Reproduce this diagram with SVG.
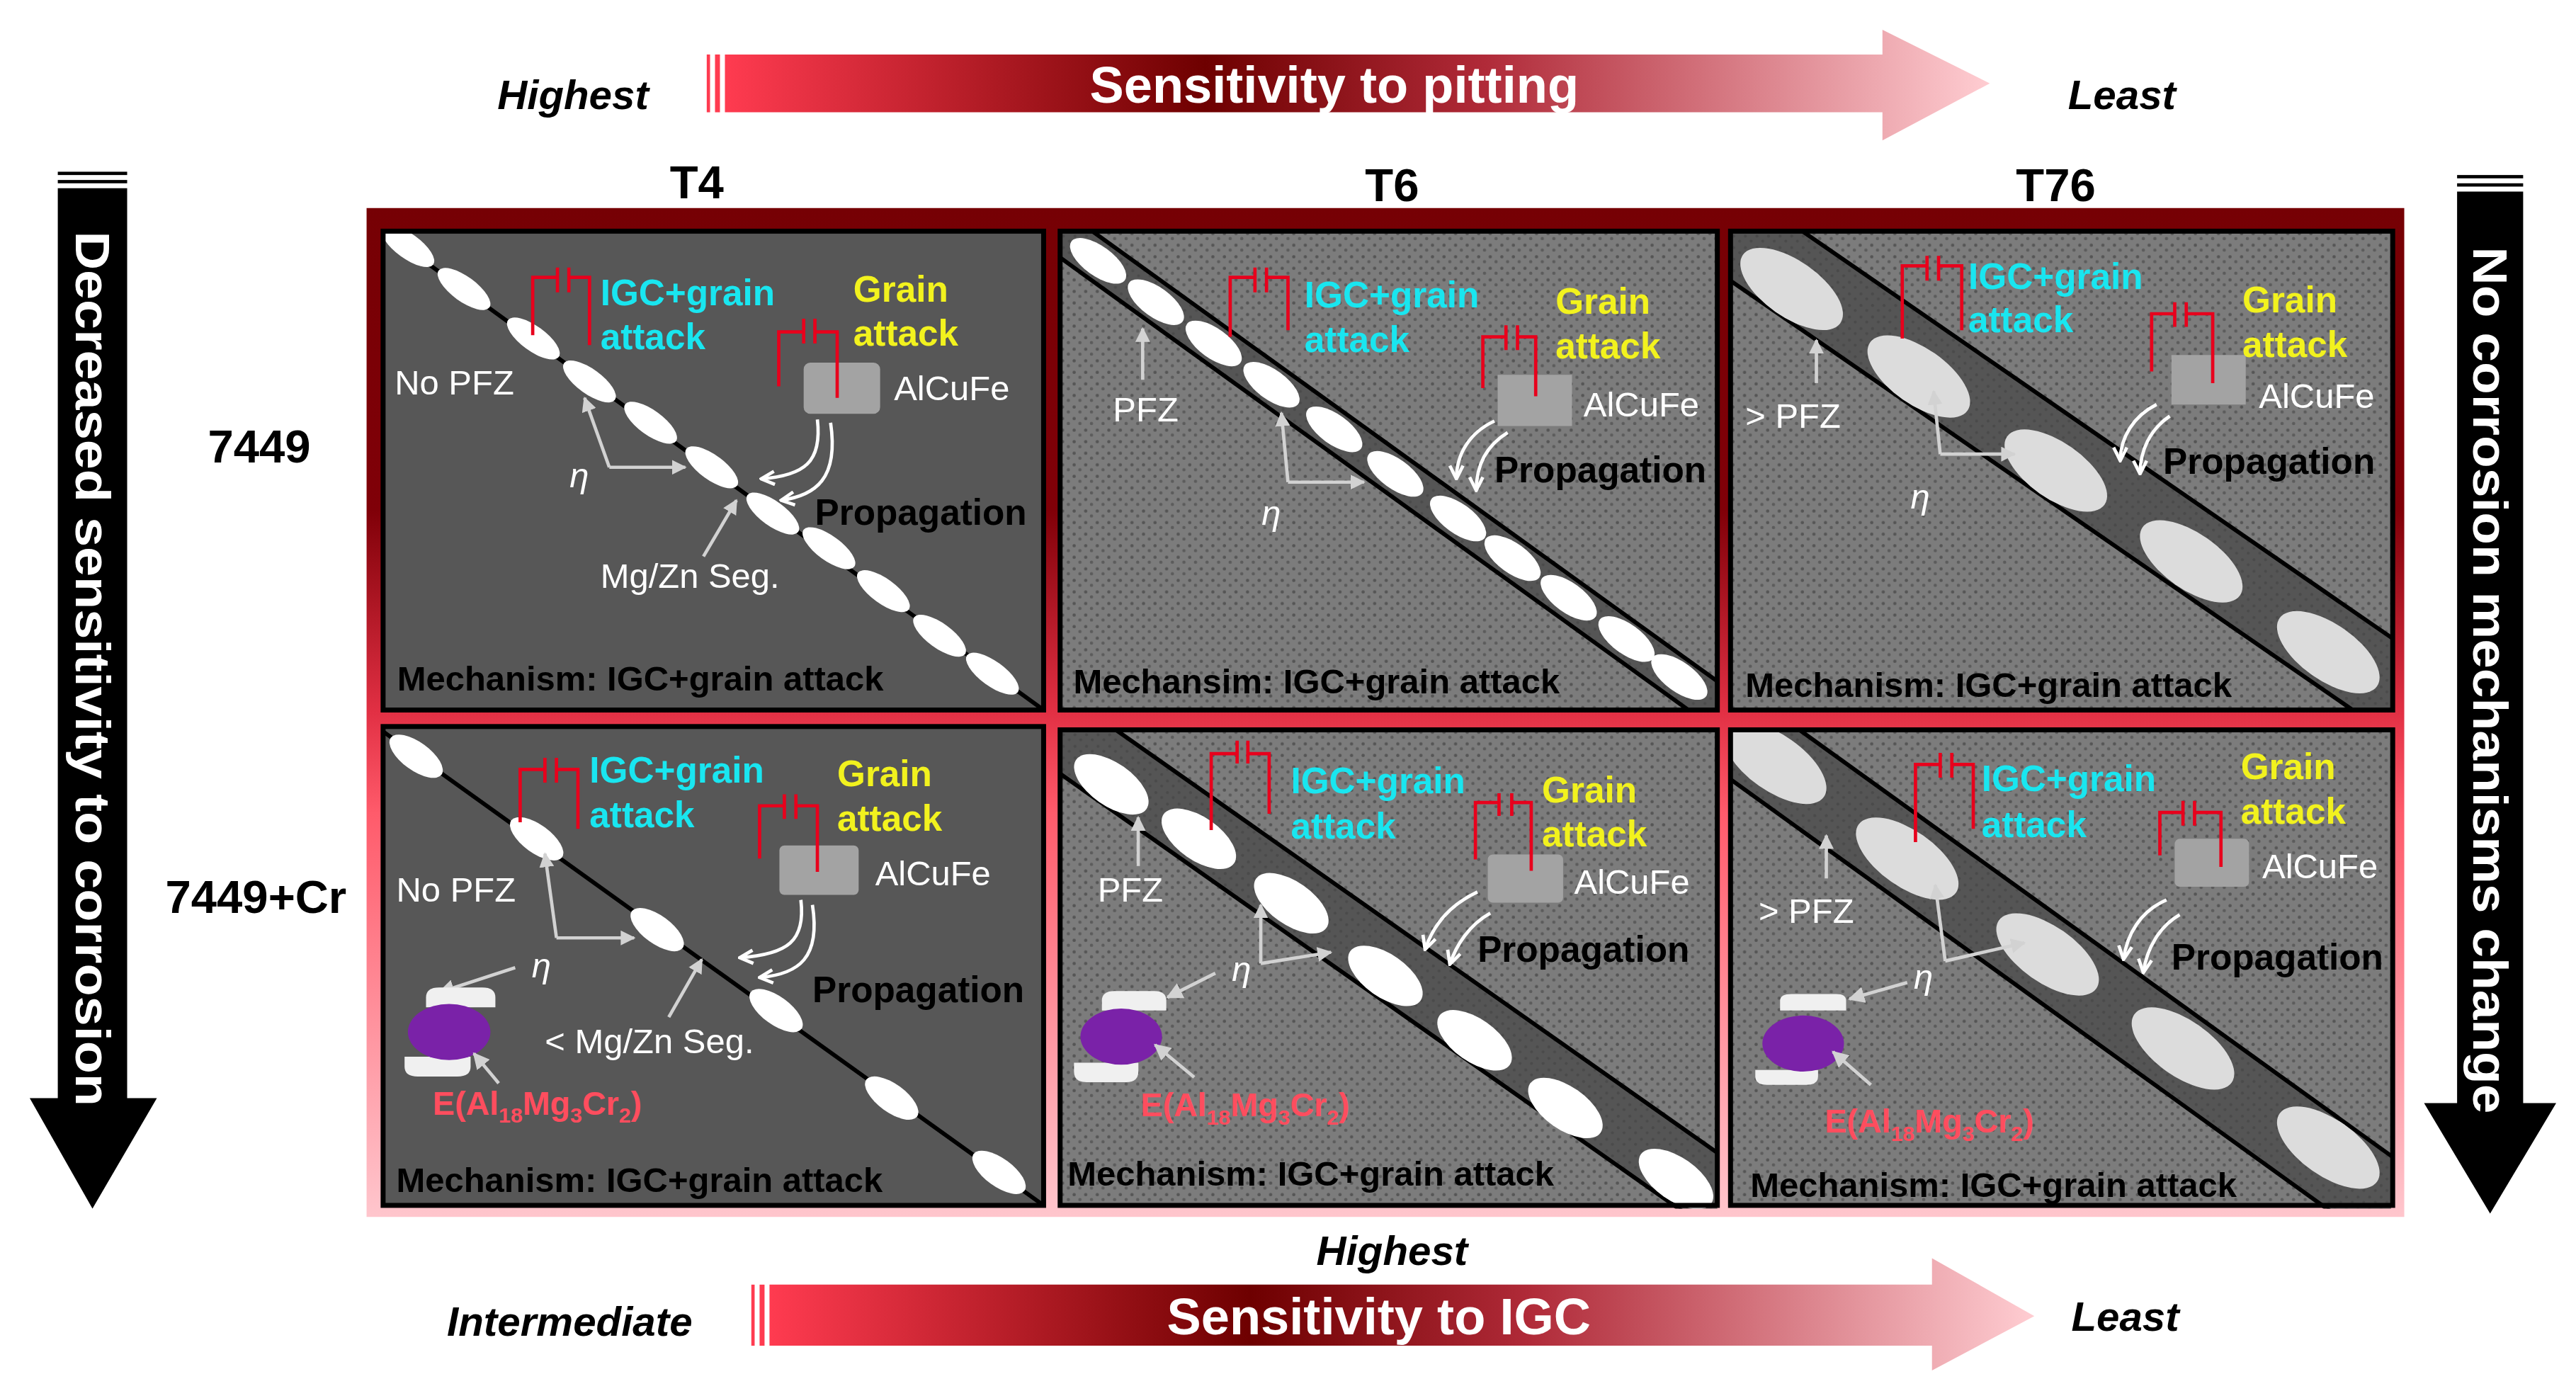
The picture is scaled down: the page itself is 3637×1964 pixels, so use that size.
<svg xmlns="http://www.w3.org/2000/svg" width="3637" height="1964" viewBox="0 0 3637 1964">
<style>
text{font-family:"Liberation Sans",Arial,sans-serif}
.b{font-weight:bold}
.cy{fill:#19e6f0;font-weight:bold;font-size:22px}
.ye{fill:#f2f21e;font-weight:bold;font-size:22px}
.wt{fill:#fff;font-size:21px}
.bk{fill:#000;font-weight:bold;font-size:22px}
.mech{fill:#000;font-weight:bold;font-size:21px}
.er{fill:#ff4d5e;font-weight:bold;font-size:20px}
.br{fill:none;stroke:#e8001c;stroke-width:2}
.ga{fill:none;stroke:#d2d2d2;stroke-width:2}
.pa{fill:none;stroke:#fff;stroke-width:2}
.gl{stroke:#000;stroke-width:2.5}
.ew{fill:#fff}
.eg{fill:#dcdcdc}
.box{fill:#a3a3a3}
.frame{fill:none;stroke:#000;stroke-width:3}
</style>
<defs>
<linearGradient id="gf" x1="0" y1="0" x2="0" y2="1">
<stop offset="0" stop-color="#760004"/><stop offset="0.3" stop-color="#800008"/><stop offset="0.5" stop-color="#e23044"/><stop offset="0.6" stop-color="#ff5b6b"/><stop offset="1" stop-color="#ffc6cd"/>
</linearGradient>
<linearGradient id="ga" x1="0" y1="0" x2="1" y2="0">
<stop offset="0" stop-color="#ff3b50"/><stop offset="0.38" stop-color="#6e0000"/><stop offset="0.6" stop-color="#b02a38"/><stop offset="1" stop-color="#ffcdd2"/>
</linearGradient>
<pattern id="tex" width="7" height="7" patternUnits="userSpaceOnUse">
<rect width="7" height="7" fill="#7c7c7c"/><circle cx="1.5" cy="1.5" r="1" fill="#555"/><circle cx="5" cy="4.5" r="1" fill="#5c5c5c"/>
</pattern>
<pattern id="tex2" width="7" height="7" patternUnits="userSpaceOnUse">
<rect width="7" height="7" fill="#555"/><circle cx="2" cy="3" r="0.9" fill="#4a4a4a"/><circle cx="5.5" cy="6" r="0.9" fill="#4a4a4a"/>
</pattern>
<marker id="mg" viewBox="0 0 10 10" refX="9" refY="5" markerWidth="9" markerHeight="9" orient="auto" markerUnits="userSpaceOnUse"><path d="M0,0L10,5L0,10z" fill="#d2d2d2"/></marker>
<marker id="mgs" viewBox="0 0 10 10" refX="9" refY="5" markerWidth="10" markerHeight="10" orient="auto" markerUnits="userSpaceOnUse"><path d="M0,0L10,5L0,10z" fill="#d2d2d2"/></marker>
<marker id="mw" viewBox="0 0 10 10" refX="9" refY="5" markerWidth="10" markerHeight="10" orient="auto" markerUnits="userSpaceOnUse"><path d="M1,1L9,5L1,9" fill="none" stroke="#fff" stroke-width="2"/></marker>
<clipPath id="c1"><rect width="400" height="290"/></clipPath>
</defs>
<rect width="3637" height="1964" fill="#fff"/>
<g transform="scale(2.3314)">
<g id="frame"><rect x="222" y="126" width="1234" height="611" fill="url(#gf)"/></g>

<g id="top-arrow">
<rect x="428" y="33" width="2" height="35" fill="#ff3b50"/><rect x="433" y="33" width="3" height="35" fill="#ff3b50"/>
<path d="M439,33H1140V18L1205,50.5L1140,85V68H439Z" fill="url(#ga)"/>
<text x="808" y="62" class="b" font-size="31" fill="#fff" text-anchor="middle">Sensitivity to pitting</text>
<text x="347" y="66" class="b" font-size="25" font-style="italic" text-anchor="middle">Highest</text>
<text x="1285" y="66" class="b" font-size="25" font-style="italic" text-anchor="middle">Least</text>
</g>
<g id="bottom-arrow">
<rect x="455" y="778" width="2" height="37" fill="#ff3b50"/><rect x="460" y="778" width="3" height="37" fill="#ff3b50"/>
<path d="M466,778H1170V762L1232,797L1170,830V815H466Z" fill="url(#ga)"/>
<text x="835" y="808" class="b" font-size="31" fill="#fff" text-anchor="middle">Sensitivity to IGC</text>
<text x="345" y="809" class="b" font-size="25" font-style="italic" text-anchor="middle">Intermediate</text>
<text x="843" y="766" class="b" font-size="25" font-style="italic" text-anchor="middle">Highest</text>
<text x="1287" y="806" class="b" font-size="25" font-style="italic" text-anchor="middle">Least</text>
</g>
<g id="left-arrow">
<rect x="35" y="104" width="42" height="2" /><rect x="35" y="109" width="42" height="2"/>
<path d="M35,114H77V665H95L56,732L18,665H35Z"/>
<text transform="translate(46,405) rotate(90)" class="b" font-size="29" fill="#fff" text-anchor="middle" textLength="530" lengthAdjust="spacingAndGlyphs">Decreased sensitivity to corrosion</text>
</g>
<g id="right-arrow">
<rect x="1488" y="106" width="40" height="2"/><rect x="1488" y="111" width="40" height="2"/>
<path d="M1488,116H1528V668H1548L1508,735L1468,668H1488Z"/>
<text transform="translate(1498,412) rotate(90)" class="b" font-size="29" fill="#fff" text-anchor="middle" textLength="525" lengthAdjust="spacingAndGlyphs">No corrosion mechanisms change</text>
</g>
<g id="labels" class="b" font-size="28">
<text x="422" y="120" text-anchor="middle">T4</text>
<text x="843" y="122" text-anchor="middle">T6</text>
<text x="1245" y="122" text-anchor="middle">T76</text>
<text x="157" y="280" text-anchor="middle">7449</text>
<text x="155" y="553" text-anchor="middle">7449+Cr</text>
</g>

<g id="p-t4-7449" transform="translate(232,140)">
<rect width="400" height="290" fill="#575757"/>
<g clip-path="url(#c1)">
<line x1="0" y1="0" x2="400" y2="290" class="gl" stroke-width="3"/>
<g class="ew">
<ellipse rx="19" ry="7.5" transform="translate(15,9) rotate(36)"/>
<ellipse rx="19" ry="7.5" transform="translate(49,35) rotate(36)"/>
<ellipse rx="19" ry="7.5" transform="translate(91,65) rotate(36)"/>
<ellipse rx="19" ry="7.5" transform="translate(125,91) rotate(36)"/>
<ellipse rx="19" ry="7.5" transform="translate(162,116) rotate(36)"/>
<ellipse rx="19" ry="7.5" transform="translate(199,143) rotate(36)"/>
<ellipse rx="19" ry="7.5" transform="translate(236,171) rotate(36)"/>
<ellipse rx="19" ry="7.5" transform="translate(270,192) rotate(36)"/>
<ellipse rx="19" ry="7.5" transform="translate(303,218) rotate(36)"/>
<ellipse rx="19" ry="7.5" transform="translate(337,245) rotate(36)"/>
<ellipse rx="19" ry="7.5" transform="translate(369,268) rotate(36)"/>
</g>
</g>
<path class="br" d="M90.6,63V28H105.6M105.6,22V37M112.5,22V37M112.5,28H125V69"/>
<rect x="254.7" y="79.6" width="46.3" height="31" rx="4" class="box"/>
<path class="br" d="M239.6,94V61H254.7M254.7,53V68M261.5,53V68M261.5,61H275V101"/>
<text x="131.6" y="44.8" class="cy">IGC+grain</text><text x="131.6" y="71.5" class="cy">attack</text>
<text x="284.8" y="42.7" class="ye">Grain</text><text x="284.8" y="69.4" class="ye">attack</text>
<text x="309.4" y="102.2" class="wt">AlCuFe</text>
<text x="7" y="99" class="wt">No PFZ</text>
<text x="261.5" y="178" class="bk">Propagation</text>
<text x="131.6" y="216" class="wt">Mg/Zn Seg.</text>
<text x="113" y="155" class="wt" font-style="italic">η</text>
<path class="ga" d="M137,143H183" marker-end="url(#mg)"/><path class="ga" d="M137,143L122,101" marker-end="url(#mg)"/>
<path class="ga" d="M194,197L214,163" marker-end="url(#mg)"/>
<path class="pa" d="M263,114C266,140 255,148 229,150" marker-end="url(#mw)"/>
<path class="pa" d="M271,116C276,150 262,160 241,163" marker-end="url(#mw)"/>
<text x="8.5" y="278" class="mech">Mechanism: IGC+grain attack</text>
<rect width="400" height="290" class="frame"/>
</g>

<g id="p-t6-7449" transform="translate(642,140)">
<rect width="398" height="290" fill="url(#tex)"/>
<g clip-path="url(#c1)">
<path d="M0,-14L398,272.6L398,302.6L0,16Z" fill="url(#tex2)"/>
<line x1="0" y1="-14" x2="398" y2="272.6" class="gl"/>
<line x1="0" y1="16" x2="398" y2="302.6" class="gl"/>
<g class="ew">
<ellipse rx="20" ry="9" transform="translate(23,18) rotate(36)"/>
<ellipse rx="20" ry="9" transform="translate(58,43) rotate(36)"/>
<ellipse rx="20" ry="9" transform="translate(93,68) rotate(36)"/>
<ellipse rx="20" ry="9" transform="translate(128,93) rotate(36)"/>
<ellipse rx="20" ry="9" transform="translate(166,120) rotate(36)"/>
<ellipse rx="20" ry="9" transform="translate(203,147) rotate(36)"/>
<ellipse rx="20" ry="9" transform="translate(241,174) rotate(36)"/>
<ellipse rx="20" ry="9" transform="translate(274,198) rotate(36)"/>
<ellipse rx="20" ry="9" transform="translate(308,222) rotate(36)"/>
<ellipse rx="20" ry="9" transform="translate(343,247) rotate(36)"/>
<ellipse rx="20" ry="9" transform="translate(375,270) rotate(36)"/>
</g>
</g>
<path class="br" d="M103,64V28H118M118,22V37M125,22V37M125,28H138V60"/>
<rect x="265" y="87" width="45" height="31" class="box"/>
<path class="br" d="M256,95V64H270M270,57V72M277,57V72M277,64H288V100"/>
<text x="148" y="46" class="cy">IGC+grain</text><text x="148" y="73" class="cy">attack</text>
<text x="300" y="50" class="ye">Grain</text><text x="300" y="77" class="ye">attack</text>
<text x="317" y="112" class="wt">AlCuFe</text>
<text x="32" y="115" class="wt">PFZ</text>
<path class="ga" d="M50,90V59" marker-end="url(#mg)"/>
<text x="263" y="152" class="bk">Propagation</text>
<text x="122" y="178" class="wt" font-style="italic">η</text>
<path class="ga" d="M138,152H184" marker-end="url(#mg)"/><path class="ga" d="M138,152L134,110" marker-end="url(#mg)"/>
<path class="pa" d="M263,115C248,122 240,135 240,150" marker-end="url(#mw)"/>
<path class="pa" d="M271,122C258,130 252,142 252,157" marker-end="url(#mw)"/>
<text x="8" y="280" class="mech">Mechansim: IGC+grain attack</text>
<rect width="398" height="290" class="frame"/>
</g>

<g id="p-t76-7449" transform="translate(1048,140)">
<rect width="401" height="290" fill="url(#tex)"/>
<g clip-path="url(#c1)">
<path d="M0,-30L401,246.7L401,306.7L0,30Z" fill="url(#tex2)"/>
<line x1="0" y1="-30" x2="401" y2="246.7" class="gl"/>
<line x1="0" y1="30" x2="401" y2="306.7" class="gl"/>
<g class="eg">
<ellipse rx="36" ry="17" transform="translate(37,35) rotate(35)"/>
<ellipse rx="36" ry="17" transform="translate(114,88) rotate(35)"/>
<ellipse rx="36" ry="17" transform="translate(197,145) rotate(35)"/>
<ellipse rx="36" ry="17" transform="translate(279,200) rotate(35)"/>
<ellipse rx="36" ry="17" transform="translate(362,255) rotate(35)"/>
</g>
</g>
<path class="br" d="M104,65V21H119M119,15V30M126,15V30M126,21H140V60"/>
<rect x="267" y="75" width="45" height="30" class="box"/>
<path class="br" d="M255,85V50H269M269,43V58M276,43V58M276,50H292V92"/>
<text x="144" y="35" class="cy">IGC+grain</text><text x="144" y="61" class="cy">attack</text>
<text x="310" y="49" class="ye">Grain</text><text x="310" y="76" class="ye">attack</text>
<text x="320" y="107" class="wt">AlCuFe</text>
<text x="9" y="119" class="wt">&gt; PFZ</text>
<path class="ga" d="M52,92V66" marker-end="url(#mg)"/>
<text x="262" y="147" class="bk">Propagation</text>
<text x="109" y="168" class="wt" font-style="italic">η</text>
<path class="ga" d="M127,135H172" marker-end="url(#mg)"/><path class="ga" d="M127,135L123,97" marker-end="url(#mg)"/>
<path class="pa" d="M258,105C244,112 236,125 236,139" marker-end="url(#mw)"/>
<path class="pa" d="M266,112C254,120 248,133 248,147" marker-end="url(#mw)"/>
<text x="9" y="282" class="mech">Mechanism: IGC+grain attack</text>
<rect width="401" height="290" class="frame"/>
</g>

<g id="p-t4-7449cr" transform="translate(232,440)">
<rect width="400" height="290" fill="#575757"/>
<g clip-path="url(#c1)">
<line x1="0" y1="3" x2="400" y2="290" class="gl" stroke-width="3"/>
<g class="ew">
<ellipse rx="19" ry="8.5" transform="translate(20,18) rotate(36)"/>
<ellipse rx="19" ry="8.5" transform="translate(93,68) rotate(36)"/>
<ellipse rx="19" ry="8.5" transform="translate(166,123) rotate(36)"/>
<ellipse rx="19" ry="8.5" transform="translate(238,172) rotate(36)"/>
<ellipse rx="19" ry="8.5" transform="translate(308,225) rotate(36)"/>
<ellipse rx="19" ry="8.5" transform="translate(373,270) rotate(36)"/>
</g>
</g>
<path class="br" d="M83,58V26H98M98,19V34M105,19V34M105,26H118V62"/>
<rect x="240" y="72" width="48" height="30" rx="3" class="box"/>
<path class="br" d="M228,80V48H243M243,41V56M250,41V56M250,48H263V88"/>
<text x="125" y="34" class="cy">IGC+grain</text><text x="125" y="61" class="cy">attack</text>
<text x="275" y="36" class="ye">Grain</text><text x="275" y="63" class="ye">attack</text>
<text x="298" y="96" class="wt">AlCuFe</text>
<text x="8" y="106" class="wt">No PFZ</text>
<text x="260" y="167" class="bk">Propagation</text>
<text x="98" y="198" class="wt">&lt; Mg/Zn Seg.</text>
<text x="90" y="152" class="wt" font-style="italic">η</text>
<path class="ga" d="M105,128H152" marker-end="url(#mg)"/><path class="ga" d="M105,128L98,77" marker-end="url(#mg)"/>
<path class="ga" d="M80,146L34,161" marker-end="url(#mgs)"/>
<path class="ga" d="M173,176L193,141" marker-end="url(#mg)"/>
<path d="M26,170V164Q26,158 34,158H60Q68,158 68,164V170Z" fill="#f0f0f0"/>
<path d="M13,200V206Q13,212 21,212H45Q53,212 53,206V200Z" fill="#f0f0f0"/>
<ellipse cx="40" cy="185" rx="25" ry="17" fill="#7a22a8"/>
<path class="ga" d="M70,216L55,198" marker-end="url(#mgs)"/>
<text x="30" y="235" class="er">E(Al<tspan font-size="13" dy="5">18</tspan><tspan dy="-5">Mg</tspan><tspan font-size="13" dy="5">3</tspan><tspan dy="-5">Cr</tspan><tspan font-size="13" dy="5">2</tspan><tspan dy="-5">)</tspan></text>
<path class="pa" d="M253,105C256,130 245,138 216,140" marker-end="url(#mw)"/>
<path class="pa" d="M260,108C265,140 252,150 228,152" marker-end="url(#mw)"/>
<text x="8" y="282" class="mech">Mechanism: IGC+grain attack</text>
<rect width="400" height="290" class="frame"/>
</g>

<g id="p-t6-7449cr" transform="translate(642,442)">
<rect width="398" height="288" fill="url(#tex)"/>
<g clip-path="url(#c1)">
<path d="M0,-23.7L398,256.1L398,306.4L0,26.6Z" fill="url(#tex2)"/>
<line x1="0" y1="-23.7" x2="398" y2="256.1" class="gl"/>
<line x1="0" y1="26.6" x2="398" y2="306.4" class="gl"/>
<g class="ew">
<ellipse rx="26" ry="13" transform="translate(31,33) rotate(35)"/>
<ellipse rx="26" ry="13" transform="translate(84,66) rotate(35)"/>
<ellipse rx="26" ry="13" transform="translate(140,105) rotate(35)"/>
<ellipse rx="26" ry="13" transform="translate(197,149) rotate(35)"/>
<ellipse rx="26" ry="13" transform="translate(251,188) rotate(35)"/>
<ellipse rx="26" ry="13" transform="translate(306,229) rotate(35)"/>
<ellipse rx="26" ry="13" transform="translate(373,272) rotate(35)"/>
</g>
</g>
<path class="br" d="M91.5,60.7V14.4H107.2M107.2,6.6V20.4M113.7,6.6V20.4M113.7,14.4H126.6V50.8"/>
<rect x="259" y="75.5" width="45.6" height="29.2" rx="3" class="box"/>
<path class="br" d="M251.5,78.5V44H265.8M265.8,38.4V52.1M273.5,38.4V52.1M273.5,44H285.3V85.4"/>
<text x="139.7" y="38.5" class="cy">IGC+grain</text><text x="139.7" y="65.7" class="cy">attack</text>
<text x="291.8" y="44" class="ye">Grain</text><text x="291.8" y="70.6" class="ye">attack</text>
<text x="311.3" y="99.2" class="wt">AlCuFe</text>
<text x="22.7" y="104" class="wt">PFZ</text>
<path class="ga" d="M47.3,82.5V53" marker-end="url(#mg)"/>
<text x="252.8" y="140.5" class="bk">Propagation</text>
<text x="104" y="152" class="wt" font-style="italic">η</text>
<path class="ga" d="M121.5,141.5L164,134.7" marker-end="url(#mg)"/><path class="ga" d="M121.5,141.5V106" marker-end="url(#mg)"/>
<path class="ga" d="M94,147.4L65,162" marker-end="url(#mgs)"/>
<path d="M25.3,170V164Q25.3,158.2 33,158.2H57Q64.3,158.2 64.3,164V170Z" fill="#f0f0f0"/>
<path d="M8.4,201.6V207Q8.4,213.4 16,213.4H40Q47.4,213.4 47.4,207V201.6Z" fill="#f0f0f0"/>
<ellipse cx="37" cy="185.8" rx="24.7" ry="17" fill="#7a22a8"/>
<path class="ga" d="M81.2,210.4L57.5,190.8" marker-end="url(#mgs)"/>
<text x="48.7" y="234" class="er">E(Al<tspan font-size="13" dy="5">18</tspan><tspan dy="-5">Mg</tspan><tspan font-size="13" dy="5">3</tspan><tspan dy="-5">Cr</tspan><tspan font-size="13" dy="5">2</tspan><tspan dy="-5">)</tspan></text>
<path class="pa" d="M252.7,98.2C236,106 226,118 221,133" marker-end="url(#mw)"/>
<path class="pa" d="M260.5,111C248,118 240,130 236,142" marker-end="url(#mw)"/>
<text x="4.5" y="276" class="mech">Mechanism: IGC+grain attack</text>
<rect width="398" height="288" class="frame"/>
</g>

<g id="p-t76-7449cr" transform="translate(1048,442)">
<rect width="401" height="288" fill="url(#tex)"/>
<g clip-path="url(#c1)">
<path d="M0,-30L401,258.7L401,318.7L0,30Z" fill="url(#tex2)"/>
<line x1="0" y1="-30" x2="401" y2="258.7" class="gl"/>
<line x1="0" y1="30" x2="401" y2="318.7" class="gl"/>
<g class="eg">
<ellipse rx="36" ry="17" transform="translate(27,20) rotate(35)"/>
<ellipse rx="36" ry="17" transform="translate(107,78) rotate(35)"/>
<ellipse rx="36" ry="17" transform="translate(192,136) rotate(35)"/>
<ellipse rx="36" ry="17" transform="translate(274,193) rotate(35)"/>
<ellipse rx="36" ry="17" transform="translate(362,253) rotate(35)"/>
</g>
</g>
<path class="br" d="M112,68V21H127M127,14V29M134,14V29M134,21H147V60"/>
<rect x="269" y="66" width="45" height="29" rx="3" class="box"/>
<path class="br" d="M260,76V50H274M274,43V58M281,43V58M281,50H297V83"/>
<text x="152" y="37" class="cy">IGC+grain</text><text x="152" y="65" class="cy">attack</text>
<text x="309" y="30" class="ye">Grain</text><text x="309" y="57" class="ye">attack</text>
<text x="322" y="90" class="wt">AlCuFe</text>
<text x="17" y="117" class="wt">&gt; PFZ</text>
<path class="ga" d="M58,90V64" marker-end="url(#mg)"/>
<text x="267" y="145" class="bk">Propagation</text>
<text x="111" y="157" class="wt" font-style="italic">η</text>
<path class="ga" d="M130,140L178,129" marker-end="url(#mg)"/><path class="ga" d="M130,140L124,94" marker-end="url(#mg)"/>
<path class="ga" d="M107,153L72,163" marker-end="url(#mgs)"/>
<path d="M30,170V164Q30,160 37,160H64Q70,160 70,164V170Z" fill="#f0f0f0"/>
<path d="M15,206V210Q15,215 22,215H46Q53,215 53,210V206Z" fill="#f0f0f0"/>
<ellipse cx="44" cy="190" rx="24.7" ry="17" fill="#7a22a8"/>
<path class="ga" d="M85,215L62,195" marker-end="url(#mgs)"/>
<text x="57" y="244" class="er">E(Al<tspan font-size="13" dy="5">18</tspan><tspan dy="-5">Mg</tspan><tspan font-size="13" dy="5">3</tspan><tspan dy="-5">Cr</tspan><tspan font-size="13" dy="5">2</tspan><tspan dy="-5">)</tspan></text>
<path class="pa" d="M264,103C248,110 240,124 238,139" marker-end="url(#mw)"/>
<path class="pa" d="M272,112C260,119 252,132 250,147" marker-end="url(#mw)"/>
<text x="12" y="283" class="mech">Mechanism: IGC+grain attack</text>
<rect width="401" height="288" class="frame"/>
</g>
</g>
</svg>
